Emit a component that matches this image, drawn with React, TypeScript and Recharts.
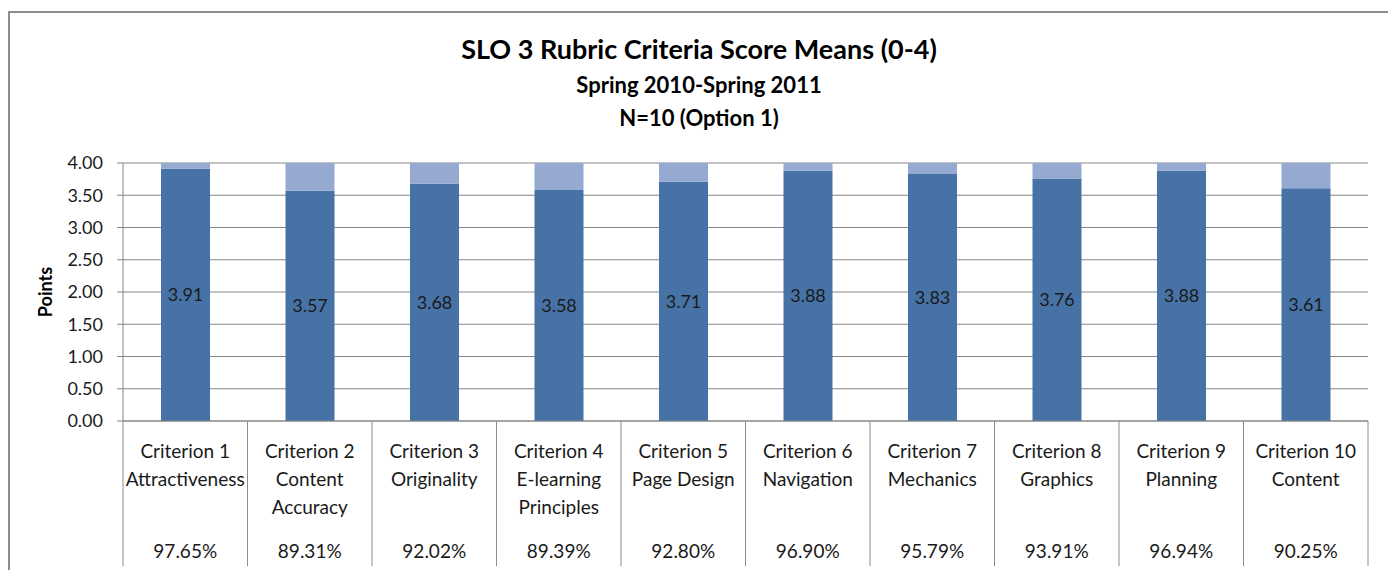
import { BarChart, Bar, XAxis, YAxis, CartesianGrid, LabelList } from "recharts";

const criterionNames = [
  "Criterion 1",
  "Criterion 2",
  "Criterion 3",
  "Criterion 4",
  "Criterion 5",
  "Criterion 6",
  "Criterion 7",
  "Criterion 8",
  "Criterion 9",
  "Criterion 10",
];
const criterionTopics = [
  ["Attractiveness"],
  ["Content", "Accuracy"],
  ["Originality"],
  ["E-learning", "Principles"],
  ["Page Design"],
  ["Navigation"],
  ["Mechanics"],
  ["Graphics"],
  ["Planning"],
  ["Content"],
];
const percentages = [
  "97.65%",
  "89.31%",
  "92.02%",
  "89.39%",
  "92.80%",
  "96.90%",
  "95.79%",
  "93.91%",
  "96.94%",
  "90.25%",
];
const means = [3.91, 3.57, 3.68, 3.58, 3.71, 3.88, 3.83, 3.76, 3.88, 3.61];
const maxScore = 4;
const yTicks = [0, 0.5, 1, 1.5, 2, 2.5, 3, 3.5, 4];

const data = criterionNames.map((name, i) => ({
  name,
  mean: means[i],
  rest: +(maxScore - means[i]).toFixed(2),
}));

const FONT = "Lato, 'Open Sans', sans-serif";
const BAND = 124.5;

const CategoryTick = (props: any) => {
  const { x, y, index } = props;
  const lines = [criterionNames[index], ...criterionTopics[index]];
  const last = index === criterionNames.length - 1;
  return (
    <g>
      <line x1={x - BAND / 2} x2={x - BAND / 2} y1={y} y2={y + 145} stroke="#8c8c8c" />
      {last && (
        <line x1={x + BAND / 2} x2={x + BAND / 2} y1={y} y2={y + 145} stroke="#8c8c8c" />
      )}
      {lines.map((l, k) => (
        <text
          key={k}
          x={x}
          y={y + 32 + k * 28}
          textAnchor="middle"
          dominantBaseline="middle"
          fontSize={19}
          fontFamily={FONT}
          fill="#1a1a1a"
        >
          {l}
        </text>
      ))}
      <text
        x={x}
        y={y + 132}
        textAnchor="middle"
        dominantBaseline="middle"
        fontSize={19}
        fontFamily={FONT}
        fill="#1a1a1a"
      >
        {percentages[index]}
      </text>
    </g>
  );
};

const App = () => {
  return (
    <div
      style={{
        position: "relative",
        marginTop: 3,
        width: 1378,
        height: 560,
        border: "2px solid #8c8c8c",
        borderBottom: "none",
        fontFamily: FONT,
        color: "#000",
      }}
    >
      <div style={{ position: "absolute", top: 20, left: 0, width: "100%", textAlign: "center", fontWeight: 700, fontSize: 27, lineHeight: "32px" }}>
        SLO 3 Rubric Criteria Score Means (0-4)
      </div>
      <div style={{ position: "absolute", top: 59, left: 0, width: "100%", textAlign: "center", fontWeight: 700, fontSize: 22, lineHeight: "26px" }}>
        Spring 2010-Spring 2011
      </div>
      <div style={{ position: "absolute", top: 92, left: 0, width: "100%", textAlign: "center", fontWeight: 700, fontSize: 22, lineHeight: "26px" }}>
        N=10 (Option 1)
      </div>
      <BarChart
        width={1378}
        height={560}
        data={data}
        margin={{ top: 150, right: 20, left: 0, bottom: 0 }}
        barSize={49}
      >
        <CartesianGrid vertical={false} stroke="#868686" />
        <XAxis
          dataKey="name"
          interval={0}
          height={152}
          tickLine={false}
          tickSize={0}
          tickMargin={0}
          axisLine={{ stroke: "#868686" }}
          tick={<CategoryTick />}
        />
        <YAxis
          width={113}
          domain={[0, maxScore]}
          ticks={yTicks}
          tickFormatter={(v: number) => v.toFixed(2)}
          tickSize={6}
          tickMargin={14}
          tickLine={{ stroke: "#868686" }}
          axisLine={{ stroke: "#868686" }}
          tick={{ fontSize: 18, fontFamily: FONT, fill: "#1a1a1a" }}
          label={{
            value: "Points",
            angle: -90,
            position: "insideLeft",
            offset: 36,
            style: { fontSize: 18, fontWeight: 700, fontFamily: FONT, fill: "#000", textAnchor: "middle" },
          }}
        />
        <Bar dataKey="mean" stackId="a" fill="#4672A6" isAnimationActive={false}>
          <LabelList
            dataKey="mean"
            position="center"
            formatter={(v: any) => Number(v).toFixed(2)}
            style={{ fontSize: 18, fontFamily: FONT, fill: "#1a1a1a" }}
          />
        </Bar>
        <Bar dataKey="rest" stackId="a" fill="#95A9D1" isAnimationActive={false} />
      </BarChart>
    </div>
  );
};

export default App;
